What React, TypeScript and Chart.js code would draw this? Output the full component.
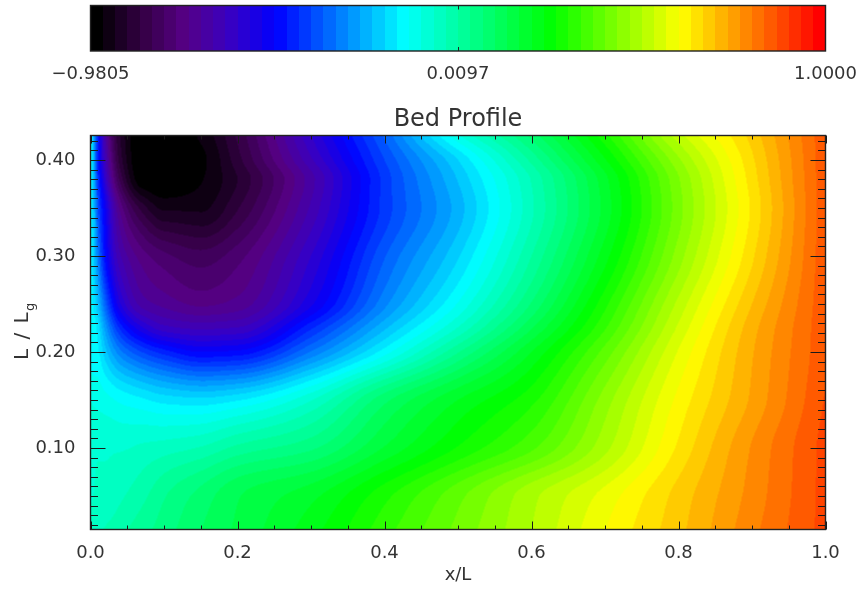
import React, { useEffect, useRef } from "react";
import { Chart, registerables } from "chart.js";

Chart.register(...registerables);

const title = "Bed Profile";
const xTitle = "x/L";
const zMin = -0.9805;
const zMax = 1.0;
const barTicks = [-0.9805, 0.0097, 1.0];
const xMajor = [0, 0.2, 0.4, 0.6, 0.8, 1.0];
const xMinor = [0.05, 0.1, 0.15, 0.25, 0.3, 0.35, 0.45, 0.5, 0.55, 0.65, 0.7, 0.75, 0.85, 0.9, 0.95];
const yMajor = [0.1, 0.2, 0.3, 0.4];
const yMinor = [
  0.02, 0.03, 0.04, 0.05, 0.06, 0.07, 0.08, 0.09, 0.11, 0.12, 0.13, 0.14, 0.15, 0.16, 0.17, 0.18, 0.19,
  0.21, 0.22, 0.23, 0.24, 0.25, 0.26, 0.27, 0.28, 0.29, 0.31, 0.32, 0.33, 0.34, 0.35, 0.36, 0.37, 0.38, 0.39, 0.41, 0.42,
];

// Grid columns and rows of the bed profile
const gridX = [0, 0.005, 0.01, 0.02, 0.04, 0.07, 0.1, 0.15, 0.2, 0.3, 0.4, 0.5, 0.6, 0.7, 0.8, 0.9, 1];
const gridY = [0.015, 0.05, 0.1, 0.15, 0.2, 0.225, 0.25, 0.3, 0.35, 0.38, 0.4, 0.4255];
// Values as percent of the colour-bar range, one list per row
const row015 = [47.5, 47.7, 48, 48.5, 49.5, 51, 52.5, 55, 57, 61, 66, 70.5, 75, 80, 84.5, 89.5, 94];
const row050 = [46.5, 46.7, 47, 47, 48, 49.5, 51.5, 54, 56.5, 59.5, 64.5, 69.5, 74.5, 79, 84, 89, 94];
const row100 = [46.5, 46.5, 46.5, 46.5, 46.5, 47, 47.5, 48.5, 50.5, 53, 58.5, 63.5, 68, 74.5, 82, 88.5, 94];
const row150 = [45, 44.7, 44.5, 44, 43, 42, 41, 40.5, 41.5, 46.5, 54.5, 60, 64.5, 72.5, 80.5, 87, 93.5];
const row200 = [43, 42.5, 42, 39, 34, 30, 27.5, 25, 25.5, 33.5, 42.5, 51.5, 60, 69, 78.5, 86.5, 93];
const row225 = [43, 42.5, 41, 36, 28, 22, 19, 18, 18.5, 28, 38, 46.8, 56.5, 66.5, 77, 86, 93];
const row250 = [43, 41, 38.5, 32, 22, 16, 14.5, 13, 14, 23, 34.5, 43.5, 53.5, 64.5, 75.5, 85, 93];
const row300 = [43, 39, 34, 26, 17, 12.5, 10.5, 9, 11, 20, 31.5, 39.8, 50, 61, 72.5, 83, 93];
const row350 = [43, 38, 31, 24, 13, 6, 3, 3, 6.5, 17, 29, 37.5, 48, 59, 71, 82, 93];
const row380 = [43, 37, 29, 20, 8, 0.5, 0, 1.5, 5, 16, 29, 38.5, 48.5, 59.5, 71.5, 82.5, 93];
const row400 = [43, 36.5, 27, 18, 6, 0, 0, 1.2, 6, 18, 30, 40, 50.5, 61.5, 73, 83, 93];
const row425 = [43, 36, 27, 16, 5, 0, 0, 2, 7, 20, 32, 44.7, 54, 64.5, 76, 84, 93];
const rows = [row015, row050, row100, row150, row200, row225, row250, row300, row350, row380, row400, row425];

// Colour table
const levels = 60;
const stopAt = [0, 0.06, 0.12, 0.18, 0.249, 0.426, 0.63, 0.808, 1];
const stopRgb = [
  [0, 0, 0], [50, 0, 65], [85, 0, 130], [60, 0, 190], [0, 0, 255],
  [0, 255, 255], [0, 255, 0], [255, 255, 0], [255, 0, 0],
];

function colour(frac: number): number[] {
  const q = Math.min(levels - 1, Math.max(0, Math.floor(frac * levels))) / (levels - 1);
  let i = 0;
  while (i < stopAt.length - 2 && q > stopAt[i + 1]) i++;
  const f = (q - stopAt[i]) / (stopAt[i + 1] - stopAt[i]);
  return stopRgb[i].map((c, k) => c + (stopRgb[i + 1][k] - c) * f);
}

// Monotone cubic reading between neighbouring grid values
function tangents(xs: number[], ys: number[]): number[] {
  const n = xs.length;
  const d = xs.slice(0, n - 1).map((x, i) => (ys[i + 1] - ys[i]) / (xs[i + 1] - x));
  return xs.map((_, i) => {
    if (i === 0) return d[0];
    if (i === n - 1) return d[n - 2];
    if (d[i - 1] * d[i] <= 0) return 0;
    const w1 = 2 * (xs[i + 1] - xs[i]) + (xs[i] - xs[i - 1]);
    const w2 = (xs[i + 1] - xs[i]) + 2 * (xs[i] - xs[i - 1]);
    return (w1 + w2) / (w1 / d[i - 1] + w2 / d[i]);
  });
}
function readAt(xs: number[], ys: number[], ms: number[], x: number): number {
  let i = 0;
  while (i < xs.length - 2 && x > xs[i + 1]) i++;
  const h = xs[i + 1] - xs[i];
  const t = Math.min(1, Math.max(0, (x - xs[i]) / h));
  const t2 = t * t, t3 = t2 * t;
  return (2 * t3 - 3 * t2 + 1) * ys[i] + (t3 - 2 * t2 + t) * h * ms[i] + (-2 * t3 + 3 * t2) * ys[i + 1] + (t3 - t2) * h * ms[i + 1];
}

const font = "'DejaVu Sans'";
const ink = "#333333";

const fieldPlugin = {
  id: "field",
  beforeDatasetsDraw(chart: any) {
    const { ctx, chartArea: a, scales } = chart;
    const w = Math.ceil(a.right - a.left), h = Math.ceil(a.bottom - a.top);
    const off = document.createElement("canvas");
    off.width = w; off.height = h;
    const oc = off.getContext("2d")!;
    const img = oc.createImageData(w, h);
    const rowTan = rows.map((r) => tangents(gridX, r));
    const ys = [];
    for (let py = 0; py < h; py++) ys.push(scales.y.getValueForPixel(a.top + py + 0.5));
    for (let px = 0; px < w; px++) {
      const xv = scales.x.getValueForPixel(a.left + px + 0.5);
      const col = rows.map((r, i) => readAt(gridX, r, rowTan[i], xv));
      const colTan = tangents(gridY, col);
      for (let py = 0; py < h; py++) {
        const v = readAt(gridY, col, colTan, ys[py]) / 100;
        const c = colour(v);
        const o = (py * w + px) * 4;
        img.data[o] = c[0]; img.data[o + 1] = c[1]; img.data[o + 2] = c[2]; img.data[o + 3] = 255;
      }
    }
    oc.putImageData(img, 0, 0);
    ctx.save();
    ctx.beginPath();
    ctx.rect(a.left, a.top, a.right - a.left, a.bottom - a.top);
    ctx.clip();
    ctx.filter = "blur(0.6px)";
    ctx.drawImage(off, a.left, a.top);
    ctx.restore();
  },
  afterDraw(chart: any) {
    const { ctx, chartArea: a, scales } = chart;
    ctx.save();
    ctx.strokeStyle = "#1a1a1a";
    ctx.lineWidth = 1;
    const seg = (x0: number, y0: number, x1: number, y1: number) => {
      ctx.beginPath(); ctx.moveTo(x0, y0); ctx.lineTo(x1, y1); ctx.stroke();
    };
    const xt = (vals: number[], len: number) => vals.forEach((v) => {
      const p = Math.round(scales.x.getPixelForValue(v)) + 0.5;
      seg(p, a.bottom, p, a.bottom - len);
      seg(p, a.top, p, a.top + len);
    });
    const yt = (vals: number[], len: number) => vals.forEach((v) => {
      const p = Math.round(scales.y.getPixelForValue(v)) + 0.5;
      seg(a.left, p, a.left + len, p);
      seg(a.right, p, a.right - len, p);
    });
    xt(xMajor, 8); xt(xMinor, 4); yt(yMajor, 15); yt(yMinor, 7.5);
    ctx.lineWidth = 1.4;
    ctx.strokeStyle = "#222";
    ctx.strokeRect(a.left, a.top, a.right - a.left, a.bottom - a.top);
    // Rotated axis title with its subscript
    ctx.fillStyle = ink;
    ctx.translate(28, (a.top + a.bottom) / 2 - 2);
    ctx.rotate(-Math.PI / 2);
    ctx.textBaseline = "alphabetic";
    ctx.textAlign = "left";
    ctx.font = `20px ${font}`;
    (ctx as any).letterSpacing = "1.5px";
    const main = "L / L";
    const mw = ctx.measureText(main).width;
    ctx.fillText(main, -mw / 2 - 5, 0);
    (ctx as any).letterSpacing = "0px";
    ctx.font = `13px ${font}`;
    ctx.fillText("g", mw / 2 - 5, 6);
    ctx.restore();
  },
};

const barPlugin = {
  id: "bar",
  beforeDatasetsDraw(chart: any) {
    const { ctx, chartArea: a, scales } = chart;
    ctx.save();
    ctx.beginPath();
    ctx.rect(a.left, a.top, a.right - a.left, a.bottom - a.top);
    ctx.clip();
    for (let i = 0; i < levels; i++) {
      const x0 = Math.round(scales.x.getPixelForValue(zMin + ((zMax - zMin) * i) / levels));
      const x1 = Math.round(scales.x.getPixelForValue(zMin + ((zMax - zMin) * (i + 1)) / levels)) + 1;
      const c = colour((i + 0.5) / levels);
      ctx.fillStyle = `rgb(${c[0]},${c[1]},${c[2]})`;
      ctx.fillRect(x0, a.top, x1 - x0, a.bottom - a.top);
    }
    ctx.restore();
  },
  afterDraw(chart: any) {
    const { ctx, chartArea: a, scales } = chart;
    ctx.save();
    ctx.strokeStyle = "#222";
    ctx.lineWidth = 1;
    const p = Math.round(scales.x.getPixelForValue(barTicks[1])) + 0.5;
    ctx.beginPath();
    ctx.moveTo(p, a.top); ctx.lineTo(p, a.top + 4);
    ctx.moveTo(p, a.bottom); ctx.lineTo(p, a.bottom - 4);
    ctx.stroke();
    ctx.lineWidth = 1.4;
    ctx.strokeRect(a.left, a.top, a.right - a.left, a.bottom - a.top);
    ctx.restore();
  },
};

const BAR_H = 95;

export default function App() {
  const barRef = useRef<HTMLCanvasElement>(null);
  const mainRef = useRef<HTMLCanvasElement>(null);

  useEffect(() => {
    const barChart = new Chart(barRef.current!, {
      type: "scatter",
      data: { datasets: [{ data: barTicks.map((x) => ({ x, y: 0 })), pointRadius: 0 }] },
      options: {
        animation: false,
        responsive: false,
        layout: { padding: { left: 90.5, right: 36.5, top: 5.5, bottom: 0 } },
        plugins: { legend: { display: false }, tooltip: { enabled: false } },
        scales: {
          x: {
            type: "linear",
            min: zMin,
            max: zMax,
            afterBuildTicks: (s: any) => { s.ticks = barTicks.map((value) => ({ value })); },
            afterFit: (s: any) => { s.height = BAR_H - 51; s.paddingLeft = 0; s.paddingRight = 0; },
            grid: { display: false },
            border: { display: false },
            ticks: {
              autoSkip: false,
              maxRotation: 0,
              padding: 5,
              color: ink,
              font: { family: font, size: 18 },
              callback: (v: any) => Number(v).toFixed(4).replace("-", "\u2212"),
            },
          },
          y: { type: "linear", display: false, min: 0, max: 1 },
        },
      } as any,
      plugins: [barPlugin],
    });

    const points = rows.flatMap((r, j) => r.map((p, i) => ({ x: gridX[i], y: gridY[j], z: zMin + ((zMax - zMin) * p) / 100 })));
    const mainChart = new Chart(mainRef.current!, {
      type: "scatter",
      data: { datasets: [{ data: points, pointRadius: 0 }] },
      options: {
        animation: false,
        responsive: false,
        layout: { padding: { left: 0, right: 36.5, top: 0, bottom: 0 } },
        plugins: {
          legend: { display: false },
          tooltip: { enabled: false },
          title: {
            display: true,
            text: title,
            fullSize: false,
            color: ink,
            font: { family: font, size: 24, weight: "normal" },
            padding: { top: 10.6, bottom: 1.1 },
          },
        },
        scales: {
          x: {
            type: "linear",
            min: 0,
            max: 1,
            afterBuildTicks: (s: any) => { s.ticks = xMajor.map((value) => ({ value })); },
            afterFit: (s: any) => { s.height = 60.5; s.paddingLeft = 0; s.paddingRight = 0; },
            grid: { display: false },
            border: { display: false },
            title: { display: true, text: xTitle, color: ink, font: { family: font, size: 18 }, padding: { top: 0, bottom: 4 } },
            ticks: {
              autoSkip: false,
              maxRotation: 0,
              padding: 5,
              color: ink,
              font: { family: font, size: 18 },
              callback: (v: any) => Number(v).toFixed(1),
            },
          },
          y: {
            type: "linear",
            min: 0.0151,
            max: 0.4255,
            afterBuildTicks: (s: any) => { s.ticks = yMajor.map((value) => ({ value })); },
            afterFit: (s: any) => { s.width = 90.5; },
            grid: { display: false },
            border: { display: false },
            ticks: {
              autoSkip: false,
              padding: 7,
              color: ink,
              font: { family: font, size: 18 },
              callback: (v: any) => Number(v).toFixed(2),
            },
          },
        },
      } as any,
      plugins: [fieldPlugin],
    });

    return () => {
      barChart.destroy();
      mainChart.destroy();
    };
  }, []);

  return (
    <div style={{ position: "absolute", left: 0, top: 0, width: 862, height: 590, background: "#fff" }}>
      <canvas ref={barRef} width={862} height={BAR_H} style={{ position: "absolute", left: 0, top: 0 }} />
      <canvas ref={mainRef} width={862} height={590 - BAR_H} style={{ position: "absolute", left: 0, top: BAR_H }} />
    </div>
  );
}
